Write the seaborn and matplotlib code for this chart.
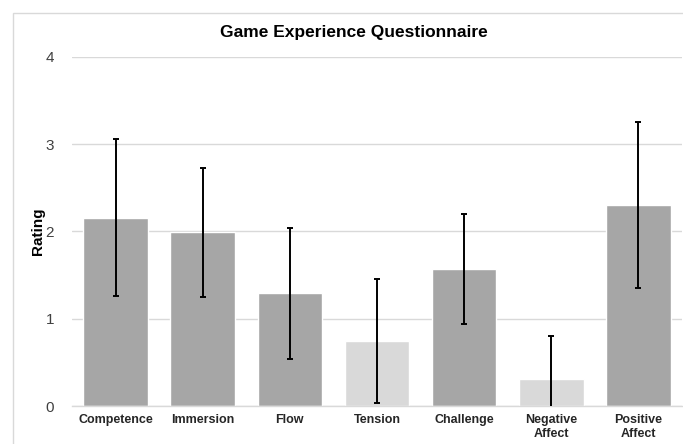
import matplotlib
matplotlib.use("Agg")
import matplotlib.pyplot as plt
import seaborn as sns
import pandas as pd
import numpy as np
from matplotlib.patches import Rectangle

categories = ["Competence", "Immersion", "Flow", "Tension", "Challenge", "Negative\nAffect", "Positive\nAffect"]
means = [2.16, 1.99, 1.29, 0.75, 1.57, 0.31, 2.30]
sds = [0.90, 0.74, 0.75, 0.71, 0.63, 0.49, 0.95]
bar_colors = ["#A6A6A6", "#A6A6A6", "#A6A6A6", "#D9D9D9", "#A6A6A6", "#D9D9D9", "#A6A6A6"]
yticks = [0, 1, 2, 3, 4]

sns.set_theme(style="white")
plt.rcParams['font.family'] = ['Liberation Sans', 'DejaVu Sans']

df = pd.DataFrame({"cat": categories, "mean": means, "sd": sds})

fig = plt.figure(figsize=(6.83, 4.44), dpi=100)
ax = fig.add_axes([72/683, 1-406/444, (682-72)/683, (406-57)/444])

sns.barplot(data=df, x="cat", y="mean", hue="cat", palette=bar_colors, legend=False,
            width=0.74, ax=ax, errorbar=None, saturation=1, zorder=2)
ax.errorbar(np.arange(len(categories)), df["mean"], yerr=df["sd"], fmt="none",
            ecolor="black", elinewidth=1.4, capsize=2.2, capthick=1.4, zorder=3)

ax.set_ylim(0, 4)
ax.set_xlim(-0.5, len(categories) - 0.5)
ax.set_yticks(yticks)
ax.set_yticklabels([str(t) for t in yticks], fontsize=11, color="#404040")
ax.yaxis.grid(True, color="#D9D9D9", linewidth=1, zorder=0)
ax.set_axisbelow(True)
for s in ["top", "right", "left"]:
    ax.spines[s].set_visible(False)
ax.spines["bottom"].set_color("#D9D9D9")
ax.spines["bottom"].set_linewidth(1)
ax.tick_params(axis="y", length=0, pad=13)
ax.tick_params(axis="x", length=0, pad=6)
ax.set_xticks(range(len(categories)))
ax.set_xticklabels(categories, fontsize=9, fontweight="bold", color="#262626", linespacing=1.2)
ax.set_xlabel("")
ax.set_ylabel("Rating", fontsize=11, fontweight="bold", color="black", labelpad=0)

fig.text(354/683, 1-32/444, "Game Experience Questionnaire", ha="center", va="center",
         fontsize=12.5, fontweight="bold", color="black")

fig.patches.append(Rectangle((13/683, -0.05), 1.0, 1-13/444+0.05, transform=fig.transFigure,
                             fill=False, edgecolor="#D9D9D9", linewidth=1))

fig.savefig("out.png", dpi=100)
